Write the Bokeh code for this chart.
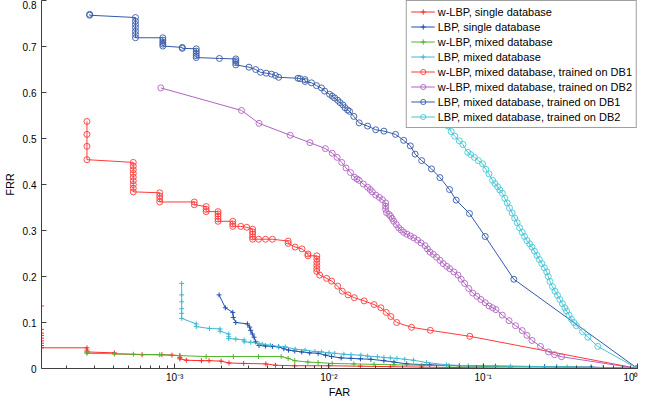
from bokeh.plotting import figure
from bokeh.models import FixedTicker, SingleIntervalTicker, CustomJSTickFormatter
from bokeh.embed import file_html
from bokeh.resources import INLINE

# (FAR, FRR) pairs
wlbp_single = [(1.37e-4, 0.136), (1.37e-4, 0.100), (1.37e-4, 0.085), (1.37e-4, 0.077), (1.37e-4, 0.072),
               (1.37e-4, 0.066), (1.37e-4, 0.060), (1.37e-4, 0.055), (1.37e-4, 0.050), (1.37e-4, 0.045),
               (2.7e-4, 0.045), (2.7e-4, 0.040), (2.7e-4, 0.036), (4.07e-4, 0.034), (4.07e-4, 0.032),
               (6.15e-4, 0.030), (8.26e-4, 0.030), (9.6e-4, 0.029), (1.08e-3, 0.028), (1.08e-3, 0.024),
               (1.08e-3, 0.021), (1.19e-3, 0.018), (1.49e-3, 0.017), (1.67e-3, 0.017), (2.0e-3, 0.016),
               (2.25e-3, 0.012), (2.8e-3, 0.011), (3.9e-3, 0.010), (4.5e-3, 0.007), (6.0e-3, 0.006),
               (1.0e-2, 0.006), (1.6e-2, 0.005), (2.5e-2, 0.004), (4.0e-2, 0.003), (7.0e-2, 0.002),
               (0.15, 0.001), (0.3, 0.0005), (1.0, 0.0)]

lbp_single = [(1.94e-3, 0.160), (2.13e-3, 0.132), (2.38e-3, 0.122), (2.40e-3, 0.111), (2.49e-3, 0.100),
              (2.96e-3, 0.097), (3.06e-3, 0.090), (3.11e-3, 0.083), (3.19e-3, 0.075), (3.27e-3, 0.068),
              (3.35e-3, 0.058), (3.52e-3, 0.050), (3.88e-3, 0.049), (4.3e-3, 0.048), (4.72e-3, 0.047),
              (5.1e-3, 0.043), (5.47e-3, 0.040), (6.0e-3, 0.038), (6.66e-3, 0.036), (7.5e-3, 0.034),
              (8.51e-3, 0.033), (9.5e-3, 0.029), (1.04e-2, 0.026), (1.2e-2, 0.023), (1.39e-2, 0.022),
              (1.6e-2, 0.021), (1.87e-2, 0.020), (2.27e-2, 0.017), (2.64e-2, 0.014), (3.19e-2, 0.010),
              (4.5e-2, 0.008), (7e-2, 0.006), (0.12, 0.005), (0.25, 0.004), (0.5, 0.003), (1.0, 0.0)]

wlbp_mixed = [(2.7e-4, 0.036), (2.7e-4, 0.033), (4.07e-4, 0.032), (5.4e-4, 0.031), (8.0e-4, 0.030),
              (1.08e-3, 0.028), (1.6e-3, 0.026), (2.4e-3, 0.026), (3.5e-3, 0.026), (4.9e-3, 0.026),
              (5.44e-3, 0.022), (6.0e-3, 0.017), (7.3e-3, 0.014), (8.5e-3, 0.013), (1.05e-2, 0.011),
              (1.45e-2, 0.010), (1.96e-2, 0.009), (2.64e-2, 0.008), (4e-2, 0.007), (6e-2, 0.006),
              (0.1, 0.005), (0.2, 0.004), (0.35, 0.003), (0.6, 0.002), (1.0, 0.0)]

lbp_mixed = [(1.11e-3, 0.185), (1.11e-3, 0.160), (1.11e-3, 0.145), (1.11e-3, 0.130), (1.11e-3, 0.120),
             (1.11e-3, 0.109), (1.38e-3, 0.097), (1.38e-3, 0.091), (1.68e-3, 0.087), (1.97e-3, 0.086),
             (1.97e-3, 0.081), (2.24e-3, 0.075), (2.24e-3, 0.069), (2.24e-3, 0.065), (2.49e-3, 0.064),
             (2.82e-3, 0.062), (2.82e-3, 0.058), (3.11e-3, 0.057), (3.52e-3, 0.054), (3.69e-3, 0.053),
             (4.17e-3, 0.0505), (4.72e-3, 0.048), (5.21e-3, 0.047), (6.04e-3, 0.042), (7.0e-3, 0.040),
             (8.11e-3, 0.037), (8.94e-3, 0.036), (1.0e-2, 0.034), (1.09e-2, 0.033), (1.25e-2, 0.031),
             (1.39e-2, 0.030), (1.61e-2, 0.029), (1.78e-2, 0.027), (2.06e-2, 0.0256), (2.27e-2, 0.024),
             (2.5e-2, 0.023), (2.76e-2, 0.022), (3.1e-2, 0.020), (3.53e-2, 0.018), (4.30e-2, 0.013),
             (5.77e-2, 0.008), (8e-2, 0.006), (0.15, 0.005), (0.3, 0.004), (0.6, 0.002), (1.0, 0.0)]

wlbp_db1 = [(2.70e-4, 0.537), (2.70e-4, 0.509), (2.70e-4, 0.483), (2.70e-4, 0.454), (5.39e-4, 0.448),
            (5.39e-4, 0.440), (5.39e-4, 0.432), (5.39e-4, 0.424), (5.39e-4, 0.416), (5.39e-4, 0.408),
            (5.39e-4, 0.400), (5.39e-4, 0.392), (5.39e-4, 0.384), (8.0e-4, 0.382), (8.0e-4, 0.375),
            (8.0e-4, 0.369), (8.0e-4, 0.362), (1.34e-3, 0.362), (1.34e-3, 0.356), (1.60e-3, 0.352),
            (1.60e-3, 0.346), (1.60e-3, 0.341), (1.91e-3, 0.341), (1.91e-3, 0.336), (1.91e-3, 0.331),
            (1.91e-3, 0.325), (1.91e-3, 0.320), (2.38e-3, 0.320), (2.38e-3, 0.314), (2.38e-3, 0.309),
            (2.68e-3, 0.309), (2.93e-3, 0.307), (3.20e-3, 0.303), (3.20e-3, 0.297), (3.20e-3, 0.292),
            (3.20e-3, 0.286), (3.20e-3, 0.281), (3.50e-3, 0.281), (3.88e-3, 0.281), (4.30e-3, 0.281),
            (5.44e-3, 0.277), (5.44e-3, 0.272), (6.04e-3, 0.264), (6.69e-3, 0.260), (7.31e-3, 0.249),
            (7.31e-3, 0.245), (8.34e-3, 0.245), (8.34e-3, 0.238), (8.34e-3, 0.231), (8.34e-3, 0.224),
            (8.34e-3, 0.217), (8.34e-3, 0.211), (8.71e-3, 0.203), (9.66e-3, 0.196), (1.04e-2, 0.190),
            (1.14e-2, 0.179), (1.22e-2, 0.168), (1.33e-2, 0.160), (1.46e-2, 0.154), (1.69e-2, 0.147),
            (1.96e-2, 0.139), (2.17e-2, 0.132), (2.35e-2, 0.122), (2.52e-2, 0.113), (2.75e-2, 0.100),
            (3.43e-2, 0.0896), (4.54e-2, 0.083), (8.18e-2, 0.070), (1.0, 0.0)]

wlbp_db2 = [(8.13e-4, 0.610), (2.71e-3, 0.561), (3.52e-3, 0.533), (5.61e-3, 0.507), (7.53e-3, 0.491),
            (9.48e-3, 0.478), (1.05e-2, 0.468), (1.13e-2, 0.459), (1.21e-2, 0.448), (1.29e-2, 0.436),
            (1.38e-2, 0.426), (1.46e-2, 0.416), (1.52e-2, 0.412), (1.57e-2, 0.409), (1.67e-2, 0.401),
            (1.78e-2, 0.394), (1.85e-2, 0.389), (1.91e-2, 0.384), (2.01e-2, 0.377), (2.12e-2, 0.372),
            (2.22e-2, 0.367), (2.33e-2, 0.360), (2.33e-2, 0.353), (2.33e-2, 0.346), (2.36e-2, 0.339),
            (2.45e-2, 0.335), (2.51e-2, 0.331), (2.57e-2, 0.326), (2.63e-2, 0.320), (2.73e-2, 0.313),
            (2.83e-2, 0.306), (2.94e-2, 0.301), (3.05e-2, 0.296), (3.20e-2, 0.292), (3.37e-2, 0.288),
            (3.55e-2, 0.284), (3.75e-2, 0.279), (3.95e-2, 0.273), (4.20e-2, 0.267), (4.35e-2, 0.260),
            (4.52e-2, 0.253), (4.75e-2, 0.248), (4.98e-2, 0.242), (5.25e-2, 0.235), (5.50e-2, 0.228),
            (5.80e-2, 0.222), (6.07e-2, 0.217), (6.45e-2, 0.210), (6.86e-2, 0.203), (7.20e-2, 0.194),
            (7.57e-2, 0.185), (8.05e-2, 0.174), (8.55e-2, 0.164), (9.10e-2, 0.157), (9.66e-2, 0.150),
            (0.103, 0.143), (0.109, 0.136), (0.115, 0.132), (0.121, 0.128), (0.133, 0.116),
            (0.147, 0.104), (0.162, 0.093), (0.179, 0.0825), (0.192, 0.072), (0.207, 0.061),
            (0.235, 0.048), (0.265, 0.036), (0.29, 0.030), (0.322, 0.0256), (1.0, 0.0)]

lbp_db1 = [(2.81e-4, 0.770), (2.81e-4, 0.768), (5.57e-4, 0.763), (5.57e-4, 0.755), (5.57e-4, 0.748),
           (5.57e-4, 0.741), (5.57e-4, 0.733), (5.57e-4, 0.726), (5.57e-4, 0.719), (8.38e-4, 0.719),
           (8.38e-4, 0.714), (8.38e-4, 0.709), (8.38e-4, 0.705), (8.38e-4, 0.701), (1.12e-3, 0.698),
           (1.12e-3, 0.696), (1.38e-3, 0.695), (1.38e-3, 0.690), (1.38e-3, 0.685), (1.38e-3, 0.680),
           (1.38e-3, 0.676), (1.95e-3, 0.674), (2.49e-3, 0.673), (2.49e-3, 0.669), (2.49e-3, 0.665),
           (2.49e-3, 0.660), (3.03e-3, 0.655), (3.35e-3, 0.650), (3.60e-3, 0.644), (3.92e-3, 0.642),
           (4.24e-3, 0.640), (4.50e-3, 0.637), (4.72e-3, 0.633), (6.30e-3, 0.631), (6.50e-3, 0.630),
           (7.0e-3, 0.628), (7.0e-3, 0.624), (7.71e-3, 0.621), (8.30e-3, 0.615), (8.94e-3, 0.610),
           (9.38e-3, 0.603), (1.01e-2, 0.596), (1.05e-2, 0.592), (1.09e-2, 0.588), (1.14e-2, 0.583),
           (1.18e-2, 0.578), (1.23e-2, 0.573), (1.27e-2, 0.567), (1.32e-2, 0.562), (1.36e-2, 0.559),
           (1.45e-2, 0.548), (1.57e-2, 0.534), (1.78e-2, 0.527), (2.01e-2, 0.519), (2.27e-2, 0.516),
           (2.70e-2, 0.509), (3.05e-2, 0.496), (3.37e-2, 0.484), (3.62e-2, 0.466), (3.99e-2, 0.452),
           (4.62e-2, 0.434), (5.24e-2, 0.415), (6.05e-2, 0.389), (6.68e-2, 0.366), (8.14e-2, 0.337),
           (0.103, 0.287), (0.158, 0.194), (1.0, 0.0)]

lbp_db2 = [(5.0e-2, 0.575), (5.6e-2, 0.545), (5.92e-2, 0.527), (6.2e-2, 0.515), (6.53e-2, 0.505),
           (7.0e-2, 0.495), (7.38e-2, 0.487), (7.94e-2, 0.470), (8.3e-2, 0.465), (8.77e-2, 0.459),
           (9.3e-2, 0.452), (9.91e-2, 0.445), (0.104, 0.433), (0.109, 0.423), (0.115, 0.409),
           (0.119, 0.402), (0.124, 0.395), (0.128, 0.388), (0.133, 0.381), (0.138, 0.370),
           (0.143, 0.360), (0.148, 0.349), (0.154, 0.338), (0.160, 0.327), (0.166, 0.317),
           (0.172, 0.306), (0.179, 0.296), (0.185, 0.287), (0.192, 0.278), (0.200, 0.271),
           (0.207, 0.264), (0.215, 0.255), (0.223, 0.246), (0.231, 0.237), (0.240, 0.228),
           (0.249, 0.219), (0.258, 0.210), (0.264, 0.200), (0.271, 0.189), (0.281, 0.178),
           (0.292, 0.168), (0.303, 0.159), (0.314, 0.150), (0.326, 0.141), (0.338, 0.132),
           (0.347, 0.125), (0.360, 0.116), (0.373, 0.107), (0.387, 0.100), (0.402, 0.093),
           (0.44, 0.080), (0.477, 0.068), (0.553, 0.048), (1.0, 0.0)]

series = [
    ("w-LBP, single database", wlbp_single, "#ff2a2a", "cross"),
    ("LBP, single database", lbp_single, "#1f4fb0", "cross"),
    ("w-LBP, mixed database", wlbp_mixed, "#4fb52c", "cross"),
    ("LBP, mixed database", lbp_mixed, "#3fbad2", "cross"),
    ("w-LBP, mixed database, trained on DB1", wlbp_db1, "#ff3a3a", "circle"),
    ("w-LBP, mixed database, trained on DB2", wlbp_db2, "#b063c2", "circle"),
    ("LBP, mixed database, trained on DB1", lbp_db1, "#3559a8", "circle"),
    ("LBP, mixed database, trained on DB2", lbp_db2, "#45c6d6", "circle"),
]

FONT = "Liberation Sans"

p = figure(width=638, height=400, x_axis_type="log", x_range=(1.37e-4, 1.0), y_range=(0, 0.8),
           output_backend="svg", toolbar_location=None,
           min_border_left=35, min_border_right=1, min_border_top=0, min_border_bottom=28)
p.outline_line_color = None
p.grid.visible = False
p.background_fill_color = "white"

for label, pts, color, marker in series:
    xs = [a for a, b in pts]
    ys = [b for a, b in pts]
    p.line(xs, ys, line_color=color, line_width=1, legend_label=label)
    if marker == "circle":
        p.scatter(xs, ys, marker="circle", size=6, fill_color=None, line_color=color,
                  line_width=0.9, legend_label=label)
    else:
        p.scatter(xs, ys, marker="cross", size=5, line_color=color, line_width=1, legend_label=label)

# axes styling (MATLAB-like: ticks inside)
major = [10.0 ** e for e in range(-4, 1)]
minor = [m * 10.0 ** e for e in range(-4, 0) for m in range(2, 10)]
p.xaxis.ticker = FixedTicker(ticks=major, minor_ticks=minor)
p.xaxis.formatter = CustomJSTickFormatter(code="""
const e = Math.round(Math.log10(tick));
const m = {'-':'\u207b','0':'\u2070','1':'\u00b9','2':'\u00b2','3':'\u00b3','4':'\u2074'};
return '10' + String(e).split('').map(c => m[c]).join('');
""")
p.yaxis.ticker = SingleIntervalTicker(interval=0.1, num_minor_ticks=0)

for ax in (p.xaxis[0], p.yaxis[0]):
    ax.axis_line_color = "#404040"
    ax.major_tick_line_color = "#404040"
    ax.minor_tick_line_color = "#404040"
    ax.major_tick_out = 0
    ax.major_tick_in = 5
    ax.minor_tick_out = 0
    ax.minor_tick_in = 3
    ax.major_label_text_font = FONT
    ax.major_label_text_font_size = "10px"
    ax.major_label_text_color = "black"
    ax.axis_label_text_font = FONT
    ax.axis_label_text_font_size = "11px"
    ax.axis_label_text_font_style = "normal"
    ax.axis_label_text_color = "black"
    ax.major_label_standoff = 5

p.xaxis.axis_label = "FAR"
p.yaxis.axis_label = "FRR"
p.xaxis.major_label_standoff = 3
p.xaxis.axis_label_standoff = 0
p.yaxis.axis_label_standoff = 4
p.yaxis.minor_tick_line_color = None

lg = p.legend[0]
lg.location = "top_right"
lg.margin = 0
lg.padding = 4
lg.spacing = 2
lg.glyph_height = 13
lg.label_height = 13
lg.glyph_width = 24
lg.label_standoff = 3
lg.label_text_font = FONT
lg.label_text_font_size = "11px"
lg.label_text_color = "black"
lg.border_line_color = "#404040"
lg.border_line_width = 1
lg.background_fill_color = "white"
lg.background_fill_alpha = 1.0

open("out.html", "w").write(file_html(p, INLINE))
